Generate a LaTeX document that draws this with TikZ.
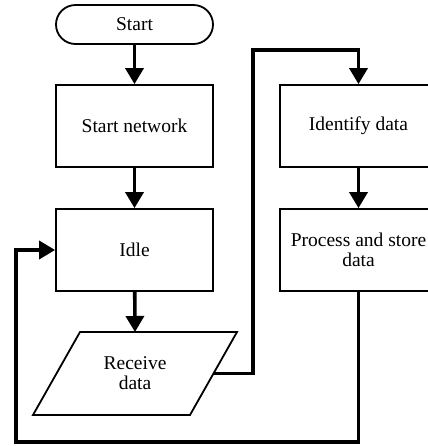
\documentclass[tikz,border=0pt]{standalone}
\usepackage{fontspec}
\setmainfont{Liberation Serif}
\usetikzlibrary{arrows.meta}

\tikzset{
  stepbox/.style={rectangle, draw, line width=0.9pt, inner sep=0pt,
    minimum width=78.5pt, minimum height=41pt, align=center},
  termbox/.style={rectangle, draw, line width=0.9pt, inner sep=0pt,
    minimum width=78.5pt, minimum height=19.5pt, rounded corners=9.75pt},
  iotext/.style={inner sep=0pt, align=center},
  ioline/.style={line width=0.9pt, line join=miter},
  flow/.style={line width=1.8pt, -{Triangle[length=8pt, width=9pt]}},
}

\begin{document}
\begin{tikzpicture}[x=0.5pt, y=-0.5pt, font=\fontsize{9.75}{10}\selectfont]
    \useasboundingbox (0,0) rectangle (428,446);
    \clip (0,0) rectangle (428,446);

    \node[termbox] (start) at (134.5,24.5) {Start};
    \node[stepbox] (network) at (134.5,126) {Start network};
    \node[stepbox] (idle) at (134.5,250) {Idle};
    \node[iotext] (receive) at (135,373.5) {Receive\\data};
    \node[stepbox] (identify) at (358.5,126) {Identify data};
    \node[stepbox] (process) at (358.5,250) {Process and store\\data};

    % input/output parallelogram
    \draw[ioline] (33,415) -- (80,332) -- (237,332) -- (190,415) -- cycle;
    \coordinate (receive-top) at (135,332);
    \coordinate (receive-right) at (213.5,373.5);

    \coordinate (up) at (253,50);
    \coordinate (down) at (16,442);

    \draw[flow] (start) -- (network);
    \draw[flow] (network) -- (idle);
    \draw[flow] (idle) -- (receive-top);
    \draw[flow] (identify) -- (process);
    \draw[flow] (receive-right) -| (up) -| (identify.north);
    \draw[flow] (process.south) |- (down) |- (idle.west);
  \end{tikzpicture}
\end{document}
